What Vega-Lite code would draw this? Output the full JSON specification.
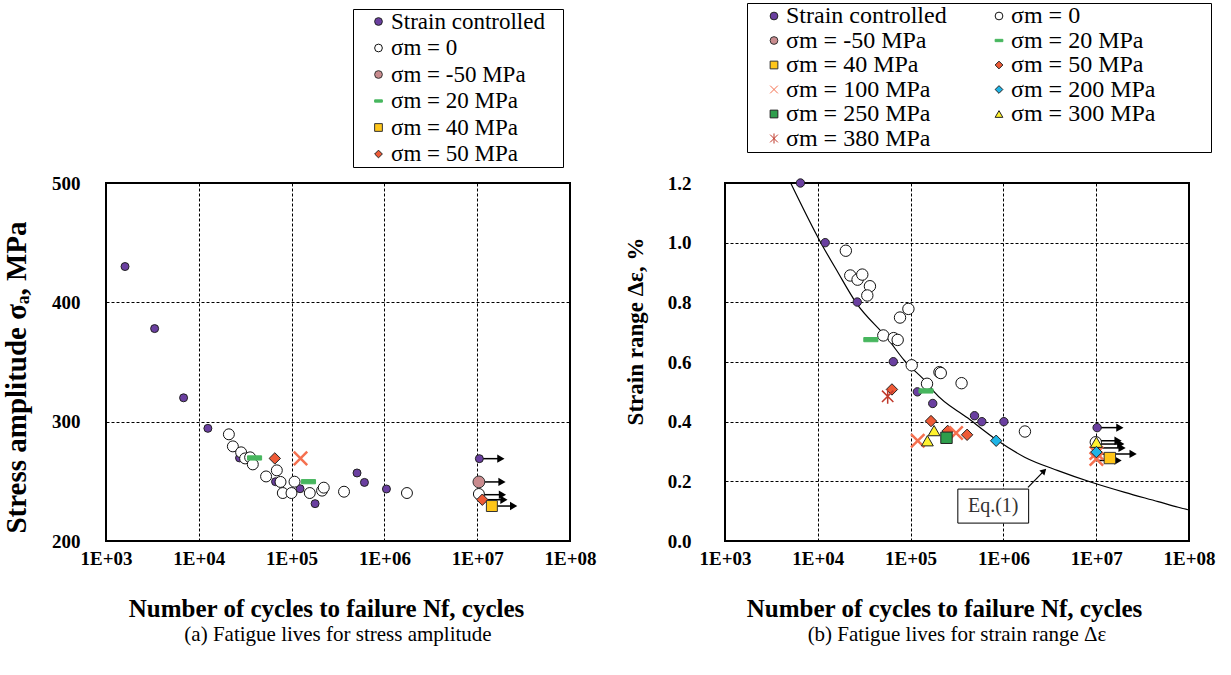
{
  "$schema": "https://vega.github.io/schema/vega-lite/v6.json",
  "background": "white",
  "padding": {"left": 1, "top": 1, "right": 30, "bottom": 5},
  "autosize": {"type": "pad"},
  "bounds": "flush",
  "spacing": 155,
  "config": {
    "font": "Liberation Serif",
    "view": {"stroke": "black", "strokeWidth": 2},
    "axis": {
      "labelFont": "Liberation Serif", "labelFontWeight": "bold", "labelFontSize": 19, "labelColor": "black",
      "titleFont": "Liberation Serif", "titleFontWeight": "bold", "titleFontSize": 25, "titleColor": "black",
      "grid": true, "gridColor": "black", "gridDash": [3, 2], "gridWidth": 1, "gridOpacity": 1,
      "domain": false, "ticks": false, "labelOverlap": false, "labelFlush": false
    },
    "axisX": {"labelPadding": 8, "titlePadding": 28}
  },
  "resolve": {"legend": {"shape": "independent", "fill": "independent", "stroke": "independent"}},
  "datasets": {
    "ptsL": [
      {"s": "Strain controlled", "N": 1603, "v": 430},
      {"s": "Strain controlled", "N": 3342, "v": 378},
      {"s": "Strain controlled", "N": 6855, "v": 320},
      {"s": "Strain controlled", "N": 12530, "v": 294.4},
      {"s": "Strain controlled", "N": 27480, "v": 269.6},
      {"s": "Strain controlled", "N": 67140, "v": 249.7},
      {"s": "Strain controlled", "N": 123300, "v": 243.8},
      {"s": "Strain controlled", "N": 179100, "v": 231.3},
      {"s": "Strain controlled", "N": 507000, "v": 257},
      {"s": "Strain controlled", "N": 609500, "v": 249.1},
      {"s": "Strain controlled", "N": 1052000, "v": 243.6},
      {"s": "Strain controlled", "N": 10550000, "v": 269},
      {"s": "σm = 0", "N": 21090, "v": 289.4},
      {"s": "σm = 0", "N": 23290, "v": 279.3},
      {"s": "σm = 0", "N": 28580, "v": 274.3},
      {"s": "σm = 0", "N": 31550, "v": 269.2},
      {"s": "σm = 0", "N": 35730, "v": 270.1},
      {"s": "σm = 0", "N": 38190, "v": 264.2},
      {"s": "σm = 0", "N": 53090, "v": 254.1},
      {"s": "σm = 0", "N": 69300, "v": 259.2},
      {"s": "σm = 0", "N": 75970, "v": 249.5},
      {"s": "σm = 0", "N": 80420, "v": 240.2},
      {"s": "σm = 0", "N": 99730, "v": 240.2},
      {"s": "σm = 0", "N": 107500, "v": 249.7},
      {"s": "σm = 0", "N": 157000, "v": 240.2},
      {"s": "σm = 0", "N": 213000, "v": 242.2},
      {"s": "σm = 0", "N": 222200, "v": 244.7},
      {"s": "σm = 0", "N": 367200, "v": 241.3},
      {"s": "σm = 0", "N": 1750000, "v": 240.2},
      {"s": "σm = 0", "N": 10430000, "v": 239.4},
      {"s": "σm = -50 MPa", "N": 10430000, "v": 249.5},
      {"s": "σm = 20 MPa", "N": 39880, "v": 269.6},
      {"s": "σm = 20 MPa", "N": 152000, "v": 249.7},
      {"s": "σm = 50 MPa", "N": 65920, "v": 269.2},
      {"s": "σm = 50 MPa", "N": 11350000, "v": 234.6},
      {"s": "σm = 40 MPa", "N": 14390000, "v": 229.3},
      {"s": "σm = 100 MPa", "N": 124700, "v": 269.2}
    ],
    "arrL": [
      {"N": 10550000, "N2": 18000000, "v": 269},
      {"N": 10430000, "N2": 18500000, "v": 249.5},
      {"N": 10430000, "N2": 18700000, "v": 238.8},
      {"N": 11350000, "N2": 19400000, "v": 234.6},
      {"N": 14390000, "N2": 24700000, "v": 229.3}
    ],
    "ptsR": [
      {"s": "Strain controlled", "N": 6500, "v": 1.2},
      {"s": "Strain controlled", "N": 12020, "v": 1.0},
      {"s": "Strain controlled", "N": 26610, "v": 0.801},
      {"s": "Strain controlled", "N": 65140, "v": 0.601},
      {"s": "Strain controlled", "N": 118300, "v": 0.5},
      {"s": "Strain controlled", "N": 173200, "v": 0.461},
      {"s": "Strain controlled", "N": 488400, "v": 0.42},
      {"s": "Strain controlled", "N": 586000, "v": 0.4},
      {"s": "Strain controlled", "N": 1012000, "v": 0.4},
      {"s": "Strain controlled", "N": 10230000, "v": 0.38},
      {"s": "σm = 0", "N": 20050, "v": 0.973},
      {"s": "σm = 0", "N": 22380, "v": 0.89},
      {"s": "σm = 0", "N": 26840, "v": 0.876},
      {"s": "σm = 0", "N": 30150, "v": 0.893},
      {"s": "σm = 0", "N": 36450, "v": 0.854},
      {"s": "σm = 0", "N": 34150, "v": 0.823},
      {"s": "σm = 0", "N": 76900, "v": 0.749},
      {"s": "σm = 0", "N": 94700, "v": 0.778},
      {"s": "σm = 0", "N": 50800, "v": 0.689},
      {"s": "σm = 0", "N": 65650, "v": 0.68},
      {"s": "σm = 0", "N": 72570, "v": 0.674},
      {"s": "σm = 0", "N": 102800, "v": 0.589},
      {"s": "σm = 0", "N": 150300, "v": 0.527},
      {"s": "σm = 0", "N": 204600, "v": 0.566},
      {"s": "σm = 0", "N": 211400, "v": 0.563},
      {"s": "σm = 0", "N": 354200, "v": 0.529},
      {"s": "σm = 0", "N": 1706000, "v": 0.367},
      {"s": "σm = 0", "N": 9900000, "v": 0.331},
      {"s": "σm = 20 MPa", "N": 37310, "v": 0.675},
      {"s": "σm = 20 MPa", "N": 146600, "v": 0.503},
      {"s": "σm = 50 MPa", "N": 62950, "v": 0.508},
      {"s": "σm = 50 MPa", "N": 165900, "v": 0.402},
      {"s": "σm = 50 MPa", "N": 251200, "v": 0.369},
      {"s": "σm = 50 MPa", "N": 406400, "v": 0.356},
      {"s": "σm = 380 MPa", "N": 56620, "v": 0.485},
      {"s": "σm = 100 MPa", "N": 119400, "v": 0.336},
      {"s": "σm = 100 MPa", "N": 309000, "v": 0.362},
      {"s": "σm = 100 MPa", "N": 10050000, "v": 0.295},
      {"s": "σm = 100 MPa", "N": 10050000, "v": 0.275},
      {"s": "σm = 300 MPa", "N": 179100, "v": 0.37},
      {"s": "σm = 300 MPa", "N": 151700, "v": 0.336},
      {"s": "σm = 300 MPa", "N": 10050000, "v": 0.331},
      {"s": "σm = 250 MPa", "N": 243600, "v": 0.346},
      {"s": "σm = 200 MPa", "N": 835600, "v": 0.336},
      {"s": "σm = 200 MPa", "N": 10050000, "v": 0.298},
      {"s": "σm = 40 MPa", "N": 14030000, "v": 0.278}
    ],
    "arrR": [
      {"N": 10230000, "N2": 18000000, "v": 0.38},
      {"N": 10050000, "N2": 17200000, "v": 0.336},
      {"N": 9900000, "N2": 18400000, "v": 0.325},
      {"N": 10050000, "N2": 19000000, "v": 0.312},
      {"N": 10050000, "N2": 25000000, "v": 0.292},
      {"N": 10050000, "N2": 17200000, "v": 0.27}
    ],
    "curve": [
      {"N": 5105, "v": 1.2},
      {"N": 10770, "v": 1.0},
      {"N": 16500, "v": 0.9},
      {"N": 25700, "v": 0.8},
      {"N": 56600, "v": 0.678},
      {"N": 85700, "v": 0.605},
      {"N": 153100, "v": 0.527},
      {"N": 180600, "v": 0.499},
      {"N": 414000, "v": 0.412},
      {"N": 871000, "v": 0.336},
      {"N": 1694000, "v": 0.281},
      {"N": 3873000, "v": 0.236},
      {"N": 8872000, "v": 0.197},
      {"N": 20370000, "v": 0.163},
      {"N": 46500000, "v": 0.132},
      {"N": 76500000, "v": 0.113},
      {"N": 100000000, "v": 0.104}
    ],
    "eqbox": [{"N": 322800, "N2": 1871000, "v": 0.174, "v2": 0.06}],
    "eqtext": [{"N": 777000, "v": 0.117, "label": "Eq.(1)"}],
    "eqarrow": [{"N": 1841000, "v": 0.18, "N2": 2742000, "v2": 0.235}]
  },
  "hconcat": [
    {
      "width": 464,
      "height": 358,
      "title": {"text": "(a) Fatigue lives for stress amplitude", "orient": "bottom", "anchor": "middle", "font": "Liberation Serif", "fontSize": 21, "fontWeight": "normal", "color": "black", "offset": 3},
      "encoding": {
        "x": {"field": "N", "type": "quantitative",
          "scale": {"type": "log", "domain": [1000, 100000000], "nice": false},
          "axis": {"title": "Number of cycles to failure Nf, cycles", "values": [1000, 10000, 100000, 1000000, 10000000, 100000000], "labelExpr": "'1E+0' + round(log(datum.value)/LN10)", "titleX": 220}},
        "y": {"field": "v", "type": "quantitative",
          "scale": {"domain": [200, 500], "nice": false, "zero": false},
          "axis": {"title": "Stress amplitude σₐ, MPa", "values": [200, 300, 400, 500], "format": "d", "titleFontSize": 29, "titleY": 194, "titlePadding": 20, "labelPadding": 26}}
      },
      "layer": [
        {"data": {"name": "arrL"}, "mark": {"type": "rule", "color": "black", "strokeWidth": 1.5},
          "encoding": {"x2": {"field": "N2"}}},
        {"data": {"name": "arrL"}, "mark": {"type": "point", "shape": "triangle-right", "filled": true, "color": "black", "size": 70, "opacity": 1},
          "encoding": {"x": {"field": "N2", "type": "quantitative", "scale": {"type": "log", "domain": [1000, 100000000], "nice": false},
            "axis": {"title": "Number of cycles to failure Nf, cycles", "values": [1000, 10000, 100000, 1000000, 10000000, 100000000], "labelExpr": "'1E+0' + round(log(datum.value)/LN10)", "titleX": 220}}}},
        {"data": {"name": "ptsL"}, "mark": {"type": "point", "filled": true, "opacity": 1},
          "encoding": {
            "shape": {"field": "s", "type": "nominal",
              "scale": {"domain": ["Strain controlled", "σm = 0", "σm = -50 MPa", "σm = 20 MPa", "σm = 40 MPa", "σm = 50 MPa", "σm = 100 MPa", "σm = 200 MPa", "σm = 250 MPa", "σm = 300 MPa", "σm = 380 MPa"],
                "range": ["circle", "circle", "circle", "M-1,-0.3L1,-0.3L1,0.3L-1,0.3Z", "square", "diamond", "M-1,-1L1,1M-1,1L1,-1", "diamond", "square", "triangle-up", "M-1,-1L1,1M-1,1L1,-1M0,-1.3L0,1.3"]},
              "legend": {"orient": "none", "legendX": 247, "legendY": -174, "title": null,
                "values": ["Strain controlled", "σm = 0", "σm = -50 MPa", "σm = 20 MPa", "σm = 40 MPa", "σm = 50 MPa"],
                "labelExpr": "datum.label + '\u2800'",
                "strokeColor": "black", "fillColor": "white", "padding": 1,
                "labelFont": "Liberation Serif", "labelFontSize": 23, "labelColor": "black", "labelLimit": 400,
                "symbolSize": 60, "symbolStrokeWidth": 1, "rowPadding": 2.5, "labelOffset": 1, "symbolOffset": 13}},
            "fill": {"field": "s", "type": "nominal",
              "scale": {"domain": ["Strain controlled", "σm = 0", "σm = -50 MPa", "σm = 20 MPa", "σm = 40 MPa", "σm = 50 MPa", "σm = 100 MPa", "σm = 200 MPa", "σm = 250 MPa", "σm = 300 MPa", "σm = 380 MPa"],
                "range": ["#6A3FA0", "#FFFFFF", "#C98B8E", "#47B65E", "#FFC61A", "#EE5A36", "transparent", "#1EB4E6", "#2E9E4C", "#FFF22E", "transparent"]},
              "legend": {"orient": "none", "legendX": 247, "legendY": -174, "title": null,
                "values": ["Strain controlled", "σm = 0", "σm = -50 MPa", "σm = 20 MPa", "σm = 40 MPa", "σm = 50 MPa"],
                "labelExpr": "datum.label + '\u2800'",
                "strokeColor": "black", "fillColor": "white", "padding": 1,
                "labelFont": "Liberation Serif", "labelFontSize": 23, "labelColor": "black", "labelLimit": 400,
                "symbolSize": 60, "symbolStrokeWidth": 1, "rowPadding": 2.5, "labelOffset": 1, "symbolOffset": 13}},
            "stroke": {"field": "s", "type": "nominal",
              "scale": {"domain": ["Strain controlled", "σm = 0", "σm = -50 MPa", "σm = 20 MPa", "σm = 40 MPa", "σm = 50 MPa", "σm = 100 MPa", "σm = 200 MPa", "σm = 250 MPa", "σm = 300 MPa", "σm = 380 MPa"],
                "range": ["#222222", "#111111", "#333333", "#47B65E", "#333333", "#222222", "#F5704F", "#222222", "#222222", "#222222", "#C0392B"]},
              "legend": {"orient": "none", "legendX": 247, "legendY": -174, "title": null,
                "values": ["Strain controlled", "σm = 0", "σm = -50 MPa", "σm = 20 MPa", "σm = 40 MPa", "σm = 50 MPa"],
                "labelExpr": "datum.label + '\u2800'",
                "strokeColor": "black", "fillColor": "white", "padding": 1,
                "labelFont": "Liberation Serif", "labelFontSize": 23, "labelColor": "black", "labelLimit": 400,
                "symbolSize": 60, "symbolStrokeWidth": 1, "rowPadding": 2.5, "labelOffset": 1, "symbolOffset": 13}},
            "size": {"condition": [
              {"test": "datum.s === 'Strain controlled'", "value": 64},
              {"test": "datum.s === 'σm = -50 MPa'", "value": 140},
              {"test": "datum.s === 'σm = 20 MPa'", "value": 200},
              {"test": "datum.s === 'σm = 50 MPa' || datum.s === 'σm = 200 MPa'", "value": 130},
              {"test": "datum.s === 'σm = 100 MPa'", "value": 180},
              {"test": "datum.s === 'σm = 300 MPa'", "value": 140}
            ], "value": 120},
            "strokeWidth": {"condition": [
              {"test": "datum.s === 'σm = 100 MPa'", "value": 2.5},
              {"test": "datum.s === 'σm = 380 MPa'", "value": 1.5}
            ], "value": 1}
          }}
      ]
    },
    {
      "width": 464,
      "height": 358,
      "title": {"text": "(b) Fatigue lives for strain range Δε", "orient": "bottom", "anchor": "middle", "font": "Liberation Serif", "fontSize": 21, "fontWeight": "normal", "color": "black", "offset": 3},
      "encoding": {
        "x": {"field": "N", "type": "quantitative",
          "scale": {"type": "log", "domain": [1000, 100000000], "nice": false},
          "axis": {"title": "Number of cycles to failure Nf, cycles", "values": [1000, 10000, 100000, 1000000, 10000000, 100000000], "labelExpr": "'1E+0' + round(log(datum.value)/LN10)", "titleX": 219}},
        "y": {"field": "v", "type": "quantitative",
          "scale": {"domain": [0, 1.2], "nice": false},
          "axis": {"title": "Strain range Δε, %", "values": [0, 0.2, 0.4, 0.6, 0.8, 1.0, 1.2], "format": ".1f", "titleFontSize": 23, "titleY": 148, "titlePadding": 20, "labelPadding": 34}}
      },
      "layer": [
        {"data": {"name": "curve"}, "mark": {"type": "line", "color": "black", "strokeWidth": 1.2, "interpolate": "monotone"}},
        {"data": {"name": "eqarrow"}, "mark": {"type": "rule", "color": "black", "strokeWidth": 1.2},
          "encoding": {"x2": {"field": "N2"}, "y2": {"field": "v2"}}},
        {"data": {"name": "eqarrow"}, "mark": {"type": "point", "shape": "triangle-up", "angle": 45, "filled": true, "color": "black", "size": 50, "opacity": 1},
          "encoding": {
            "x": {"field": "N2", "type": "quantitative", "scale": {"type": "log", "domain": [1000, 100000000], "nice": false},
              "axis": {"title": "Number of cycles to failure Nf, cycles", "values": [1000, 10000, 100000, 1000000, 10000000, 100000000], "labelExpr": "'1E+0' + round(log(datum.value)/LN10)", "titleX": 219}},
            "y": {"field": "v2", "type": "quantitative", "scale": {"domain": [0, 1.2], "nice": false},
              "axis": {"title": "Strain range Δε, %", "values": [0, 0.2, 0.4, 0.6, 0.8, 1.0, 1.2], "format": ".1f", "titleFontSize": 23, "titleY": 148, "titlePadding": 20, "labelPadding": 34}}}},
        {"data": {"name": "eqbox"}, "mark": {"type": "rect", "fill": "white", "stroke": "black", "strokeWidth": 1},
          "encoding": {"x2": {"field": "N2"}, "y2": {"field": "v2"}}},
        {"data": {"name": "eqtext"}, "mark": {"type": "text", "font": "Liberation Serif", "fontSize": 20, "color": "#333333"},
          "encoding": {"text": {"field": "label"}}},
        {"data": {"name": "arrR"}, "mark": {"type": "rule", "color": "black", "strokeWidth": 1.5},
          "encoding": {"x2": {"field": "N2"}}},
        {"data": {"name": "arrR"}, "mark": {"type": "point", "shape": "triangle-right", "filled": true, "color": "black", "size": 70, "opacity": 1},
          "encoding": {"x": {"field": "N2", "type": "quantitative", "scale": {"type": "log", "domain": [1000, 100000000], "nice": false},
            "axis": {"title": "Number of cycles to failure Nf, cycles", "values": [1000, 10000, 100000, 1000000, 10000000, 100000000], "labelExpr": "'1E+0' + round(log(datum.value)/LN10)", "titleX": 219}}}},
        {"data": {"name": "ptsR"}, "mark": {"type": "point", "filled": true, "opacity": 1},
          "encoding": {
            "shape": {"field": "s", "type": "nominal",
              "scale": {"domain": ["Strain controlled", "σm = 0", "σm = -50 MPa", "σm = 20 MPa", "σm = 40 MPa", "σm = 50 MPa", "σm = 100 MPa", "σm = 200 MPa", "σm = 250 MPa", "σm = 300 MPa", "σm = 380 MPa"],
                "range": ["circle", "circle", "circle", "M-1,-0.3L1,-0.3L1,0.3L-1,0.3Z", "square", "diamond", "M-1,-1L1,1M-1,1L1,-1", "diamond", "square", "triangle-up", "M-1,-1L1,1M-1,1L1,-1M0,-1.3L0,1.3"]},
              "legend": {"orient": "none", "legendX": 22, "legendY": -180, "title": null, "columns": 2, "direction": "horizontal", "columnPadding": 26,
                "strokeColor": "black", "fillColor": "white", "padding": 1,
                "labelFont": "Liberation Serif", "labelFontSize": 24, "labelColor": "black", "labelLimit": 400,
                "labelExpr": "datum.index % 2 == 1 ? datum.label + '\u2800\u2800\u2800' : datum.label",
                "symbolSize": 60, "symbolStrokeWidth": 1, "rowPadding": 0.5, "labelOffset": 0, "symbolOffset": 14}},
            "fill": {"field": "s", "type": "nominal",
              "scale": {"domain": ["Strain controlled", "σm = 0", "σm = -50 MPa", "σm = 20 MPa", "σm = 40 MPa", "σm = 50 MPa", "σm = 100 MPa", "σm = 200 MPa", "σm = 250 MPa", "σm = 300 MPa", "σm = 380 MPa"],
                "range": ["#6A3FA0", "#FFFFFF", "#C98B8E", "#47B65E", "#FFC61A", "#EE5A36", "transparent", "#1EB4E6", "#2E9E4C", "#FFF22E", "transparent"]},
              "legend": {"orient": "none", "legendX": 22, "legendY": -180, "title": null, "columns": 2, "direction": "horizontal", "columnPadding": 26,
                "strokeColor": "black", "fillColor": "white", "padding": 1,
                "labelFont": "Liberation Serif", "labelFontSize": 24, "labelColor": "black", "labelLimit": 400,
                "labelExpr": "datum.index % 2 == 1 ? datum.label + '\u2800\u2800\u2800' : datum.label",
                "symbolSize": 60, "symbolStrokeWidth": 1, "rowPadding": 0.5, "labelOffset": 0, "symbolOffset": 14}},
            "stroke": {"field": "s", "type": "nominal",
              "scale": {"domain": ["Strain controlled", "σm = 0", "σm = -50 MPa", "σm = 20 MPa", "σm = 40 MPa", "σm = 50 MPa", "σm = 100 MPa", "σm = 200 MPa", "σm = 250 MPa", "σm = 300 MPa", "σm = 380 MPa"],
                "range": ["#222222", "#111111", "#333333", "#47B65E", "#333333", "#222222", "#F5704F", "#222222", "#222222", "#222222", "#C0392B"]},
              "legend": {"orient": "none", "legendX": 22, "legendY": -180, "title": null, "columns": 2, "direction": "horizontal", "columnPadding": 26,
                "strokeColor": "black", "fillColor": "white", "padding": 1,
                "labelFont": "Liberation Serif", "labelFontSize": 24, "labelColor": "black", "labelLimit": 400,
                "labelExpr": "datum.index % 2 == 1 ? datum.label + '\u2800\u2800\u2800' : datum.label",
                "symbolSize": 60, "symbolStrokeWidth": 1, "rowPadding": 0.5, "labelOffset": 0, "symbolOffset": 14}},
            "size": {"condition": [
              {"test": "datum.s === 'Strain controlled'", "value": 70},
              {"test": "datum.s === 'σm = -50 MPa'", "value": 140},
              {"test": "datum.s === 'σm = 20 MPa'", "value": 200},
              {"test": "datum.s === 'σm = 50 MPa' || datum.s === 'σm = 200 MPa'", "value": 130},
              {"test": "datum.s === 'σm = 100 MPa'", "value": 180},
              {"test": "datum.s === 'σm = 300 MPa'", "value": 140}
            ], "value": 130},
            "strokeWidth": {"condition": [
              {"test": "datum.s === 'σm = 100 MPa'", "value": 2.5},
              {"test": "datum.s === 'σm = 380 MPa'", "value": 1.5}
            ], "value": 1}
          }}
      ]
    }
  ]
}
